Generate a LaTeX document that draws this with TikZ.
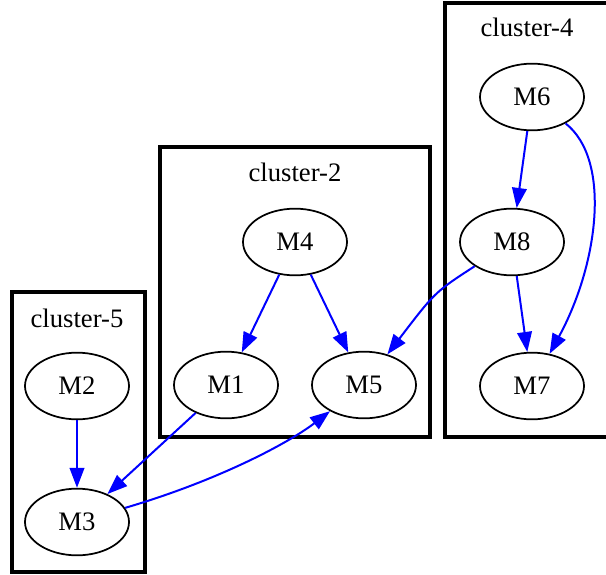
\documentclass[tikz,border=0pt]{standalone}
\usepackage{fontspec}
\setmainfont{Liberation Serif}
\usetikzlibrary{shapes.geometric,arrows.meta}
\tikzset{
  mod/.style={ellipse, draw, line width=1.3pt, minimum width=78pt, minimum height=50pt,
    inner sep=0pt, font=\fontsize{20}{24}\selectfont},
  clusterbox/.style={draw, line width=2.6pt},
  clusterlabel/.style={font=\fontsize{20}{24}\selectfont},
  dep/.style={draw=blue, line width=1.5pt, -{Triangle[length=15pt,width=11pt]}}
}
\begin{document}
\begin{tikzpicture}[x=0.75pt, y=-0.75pt]
\clip (0,0) rectangle (606,574);
\fill[white] (0,0) rectangle (606,574);

% clusters
\draw[clusterbox] (12,292) rectangle (145,572);
\draw[clusterbox] (160,147) rectangle (430,437);
\draw[clusterbox] (445,3) rectangle (615,437);
\node[clusterlabel] (l5) at (77,318) {cluster-5};
\node[clusterlabel] (l2) at (295,172) {cluster-2};
\node[clusterlabel] (l4) at (527,27) {cluster-4};

% modules
\node[mod] (M2) at (77,386) {M2};
\node[mod] (M3) at (77,522) {M3};
\node[mod] (M4) at (295,242) {M4};
\node[mod] (M1) at (226,385) {M1};
\node[mod] (M5) at (364,385) {M5};
\node[mod] (M6) at (532,97) {M6};
\node[mod] (M8) at (512,242) {M8};
\node[mod] (M7) at (532,386) {M7};

% dependencies
\draw[dep] (M2) -- (M3);
\draw[dep] (M4) -- (M1);
\draw[dep] (M4) -- (M5);
\draw[dep] (M6) -- (M8);
\draw[dep] (M8) -- (M7);
\draw[dep] (M1) -- (M3);
\draw[dep] (M8) .. controls (435,292) .. (M5);
\draw[dep] (M3) .. controls (220,480) and (290,442) .. (M5);
\draw[dep] (M6) .. controls (612,160) and (598,265) .. (M7);
\end{tikzpicture}
\end{document}
